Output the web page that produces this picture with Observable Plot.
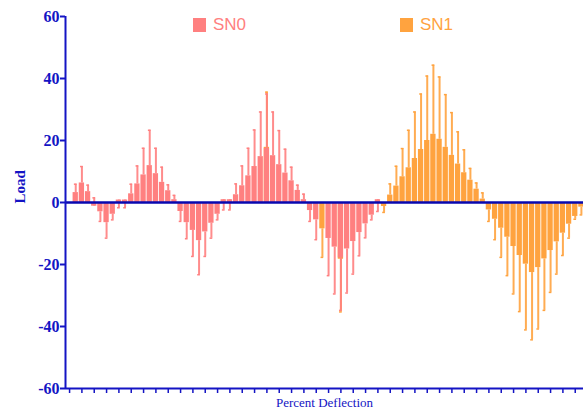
<!DOCTYPE html>
<html>
<head>
<meta charset="utf-8">
<script src="https://cdn.jsdelivr.net/npm/d3@7"></script>
<script src="https://cdn.jsdelivr.net/npm/@observablehq/plot@0.6"></script>
<style>
  html, body { margin: 0; padding: 0; background: #fff; }
  #wrap { position: relative; width: 583px; height: 414px; overflow: hidden; }
  .leg { position: absolute; top: 15px; display: flex; align-items: center; font-family: "Liberation Sans", Arial, sans-serif; font-size: 17px; }
  .leg span.sw { display: inline-block; width: 13px; height: 14px; margin-right: 7px; }
</style>
</head>
<body>
<div id="wrap">
  <div class="leg" style="left:193px;color:#ff8080"><span class="sw" style="background:#ff8080"></span>SN0</div>
  <div class="leg" style="left:400px;color:#ffa33f"><span class="sw" style="background:#ffa33f"></span>SN1</div>
</div>
<script>
// Deflection categories (one bar every half step)
const deflection = d3.range(0.5, 42, 0.5);
const xTicks = d3.range(0, 42);
const yTicks = [-60, -40, -20, 0, 20, 40, 60];
const seriesNames = ["SN0", "SN1"];
const seriesColors = ["#ff8080", "#ffa33f"];

// SN0 mean load and whisker end (mean ± error)
const sn0Load = [3.2,6.3,3.5,-1.2,-3.0,-6.5,-3.8,0.8,0.8,2.8,6.0,8.9,11.9,9.3,6.5,3.8,0.9,-2.9,-6.5,-9.0,-12.3,-9.5,-6.7,-3.8,0.9,0.9,2.5,5.4,8.6,11.6,14.8,17.5,15.1,12.2,9.5,7.0,3.9,0.9,-2.6,-5.6,null,-11.6,-14.4,-17.9,-15.0,-12.6,-9.7,-6.9,-4.1,0.9];
const sn0Whisker = [5.9,11.6,5.6,1.5,-6.1,-11.5,-5.6,-1.7,-1.7,5.9,11.8,17.5,23.3,17.5,11.4,5.7,2.3,-6.1,-11.7,-17.4,-23.3,-17.4,-11.5,-5.6,-2.4,-2.4,6.0,11.8,17.5,23.4,29.2,35.0,29.2,23.2,17.2,11.4,5.6,2.7,-6.1,-12.0,null,-23.6,-29.5,-34.8,-29.2,-23.1,-17.2,-11.4,-5.6,-2.9];

// SN1 mean load and whisker end
const sn1Load = [null,null,null,null,null,null,null,null,null,null,null,null,null,null,null,null,null,null,null,null,null,null,null,null,null,null,null,null,null,null,null,
  17.8,null,null,null,null,null,null,null,null,-8.5,null,null,-18.3,null,null,null,null,null,null,
  -1.3,2.4,5.3,8.3,11.2,14.2,17.1,20.0,22.0,20.4,17.8,15.2,12.4,9.6,7.2,4.3,1.1,-2.4,-5.4,-8.3,-11.2,-14.2,-17.1,-19.9,-22.6,-21.0,-18.2,-15.5,-12.7,-9.9,-7.0,-4.5,-1.5];
const sn1Whisker = [null,null,null,null,null,null,null,null,null,null,null,null,null,null,null,null,null,null,null,null,null,null,null,null,null,null,null,null,null,null,null,
  35.6,null,null,null,null,null,null,null,null,-17.7,null,null,-35.3,null,null,null,null,null,null,
  -3.2,6.0,11.7,17.4,23.3,29.2,35.0,40.8,44.3,40.5,34.8,29.0,22.8,17.0,11.0,6.3,3.1,-6.1,-12.0,-17.7,-23.6,-29.5,-35.2,-41.1,-44.3,-40.8,-34.8,-29.0,-23.1,-17.1,-11.5,-5.4,-4.0];

function rows(load, whisk, s) {
  return deflection.map((x, i) => ({x, load: load[i], whisker: whisk[i], series: s}))
    .filter(d => d.load != null);
}
const sn0 = rows(sn0Load, sn0Whisker, seriesNames[0]);
const sn1 = rows(sn1Load, sn1Whisker, seriesNames[1]);

const blue = "#1414c4";
const half = 0.215;
const cap = 0.11;

function seriesMarks(data, color) {
  return [
    Plot.ruleX(data, {x: "x", y1: "load", y2: "whisker", stroke: color, strokeWidth: 2, strokeOpacity: 0.9}),
    Plot.ruleY(data, {y: "whisker", x1: d => d.x - cap, x2: d => d.x + cap, stroke: color, strokeWidth: 1.5}),
    Plot.rect(data, {x1: d => d.x - half, x2: d => d.x + half, y1: 0, y2: "load", fill: color})
  ];
}

const chart = Plot.plot({
  width: 583,
  height: 414,
  marginLeft: 65,
  marginRight: 0,
  marginTop: 16,
  marginBottom: 26,
  x: {domain: [-0.33, 41.67]},
  y: {domain: [-60, 60]},
  style: {background: "transparent", overflow: "visible"},
  marks: [
    ...seriesMarks(sn1, seriesColors[1]),
    ...seriesMarks(sn0, seriesColors[0]),
    Plot.ruleY([0], {stroke: "#0808b0", strokeWidth: 2.4}),
    Plot.ruleX([-0.33], {y1: -60, y2: 60, stroke: blue, strokeWidth: 2}),
    Plot.ruleY([-60], {stroke: blue, strokeWidth: 2}),
    Plot.axisY({ticks: yTicks, tickSize: 5, tickPadding: 1, strokeWidth: 2, color: blue,
      fontSize: 16, fontWeight: "bold", fontFamily: "Liberation Serif", tickFormat: d => String(d), label: null}),
    Plot.axisX({ticks: xTicks, tickSize: 5, strokeWidth: 1.5, color: blue, tickFormat: () => "", label: null}),
    Plot.text(["Percent Deflection"], {text: d => d, frameAnchor: "bottom", dy: 18, fontSize: 13,
      fontFamily: "Liberation Serif", fill: blue}),
    Plot.text(["Load"], {text: d => d, frameAnchor: "left", dx: -45, dy: 1, rotate: -90, fontSize: 15,
      fontWeight: "bold", fontFamily: "Liberation Serif", fill: blue})
  ]
});
document.getElementById("wrap").prepend(chart);
chart.style.position = "absolute";
chart.style.left = "0";
chart.style.top = "0";
</script>
</body>
</html>
